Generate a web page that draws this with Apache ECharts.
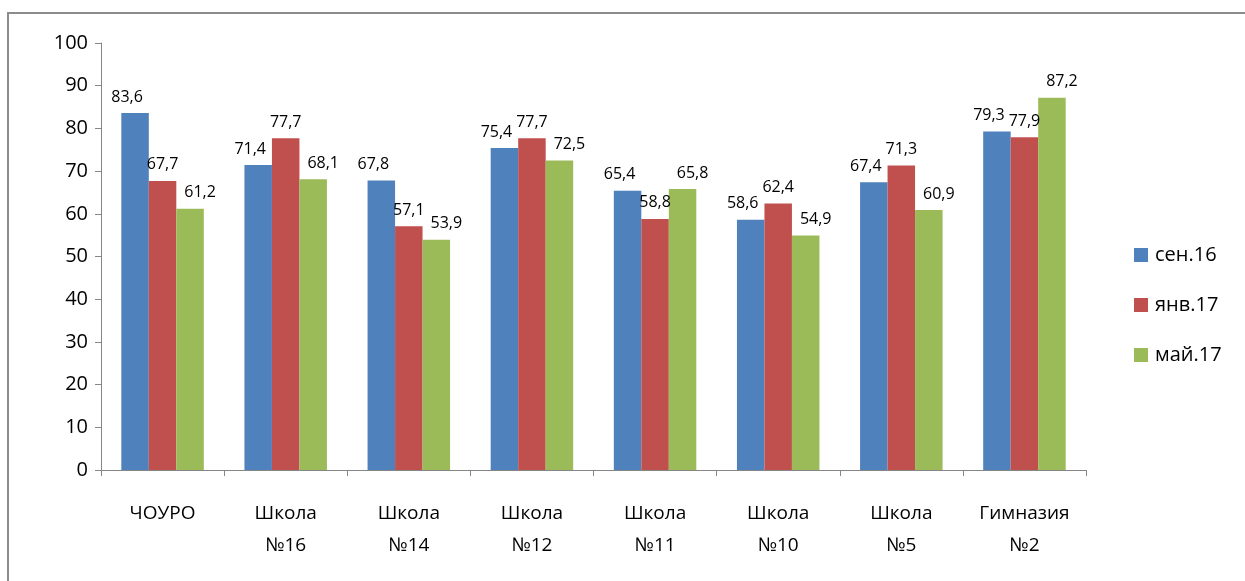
<!DOCTYPE html>
<html>
<head>
<meta charset="utf-8">
<script src="https://cdn.jsdelivr.net/npm/echarts@6/dist/echarts.min.js"></script>
<style>
  html, body { margin: 0; padding: 0; background: #fff; }
  #chart { width: 1245px; height: 581px; }
</style>
</head>
<body>
<div id="chart"></div>
<script>
  var categories = ['ЧОУРО', 'Школа\n№16', 'Школа\n№14', 'Школа\n№12', 'Школа\n№11', 'Школа\n№10', 'Школа\n№5', 'Гимназия\n№2'];
  var seriesNames = ['сен.16', 'янв.17', 'май.17'];
  var sep16 = [83.6, 71.4, 67.8, 75.4, 65.4, 58.6, 67.4, 79.3];
  var jan17 = [67.7, 77.7, 57.1, 77.7, 58.8, 62.4, 71.3, 77.9];
  var may17 = [61.2, 68.1, 53.9, 72.5, 65.8, 54.9, 60.9, 87.2];
  var colors = ['#4f81bd', '#c0504d', '#9bbb59'];

  var font = '"Open Sans", "Liberation Sans", sans-serif';
  var chart = echarts.init(document.getElementById('chart'), null, { renderer: 'canvas' });

  function makeSeries(name, values, color, dx) {
    return {
      name: name,
      type: 'bar',
      data: values,
      barGap: '0%',
      barCategoryGap: '33%',
      itemStyle: { color: color },
      label: {
        show: true,
        position: 'top',
        distance: 8,
        offset: [dx, 0],
        color: '#000',
        fontFamily: font,
        fontSize: 16,
        formatter: function (p) { return String(p.value).replace('.', ','); }
      }
    };
  }

  chart.setOption({
    animation: false,
    graphic: [{
      type: 'rect',
      shape: { x: 8, y: 13, width: 1400, height: 800 },
      style: { fill: 'none', stroke: '#8c8c8c', lineWidth: 2 },
      silent: true
    }],
    legend: {
      orient: 'vertical',
      left: 1129,
      top: 240,
      itemWidth: 14,
      itemHeight: 14,
      itemGap: 30,
      icon: 'rect',
      data: seriesNames,
      textStyle: { fontFamily: font, fontSize: 20, color: '#000', padding: [0, 0, 0, 2] }
    },
    grid: { left: 101, right: 159, top: 43, bottom: 111 },
    xAxis: {
      type: 'category',
      data: categories,
      axisLine: { lineStyle: { color: '#868686', width: 1 } },
      axisTick: { show: true, alignWithLabel: false, length: 6, lineStyle: { color: '#868686' } },
      axisLabel: { interval: 0, color: '#000', fontFamily: font, fontSize: 19, lineHeight: 32, margin: 28 }
    },
    yAxis: {
      type: 'value',
      min: 0,
      max: 100,
      interval: 10,
      splitLine: { show: false },
      axisLine: { show: true, lineStyle: { color: '#868686', width: 1 } },
      axisTick: { show: true, length: 6, lineStyle: { color: '#868686' } },
      axisLabel: { color: '#000', fontFamily: font, fontSize: 20, margin: 13 }
    },
    series: [
      makeSeries(seriesNames[0], sep16, colors[0], -8),
      makeSeries(seriesNames[1], jan17, colors[1], 0),
      makeSeries(seriesNames[2], may17, colors[2], 10)
    ]
  });
</script>
</body>
</html>
